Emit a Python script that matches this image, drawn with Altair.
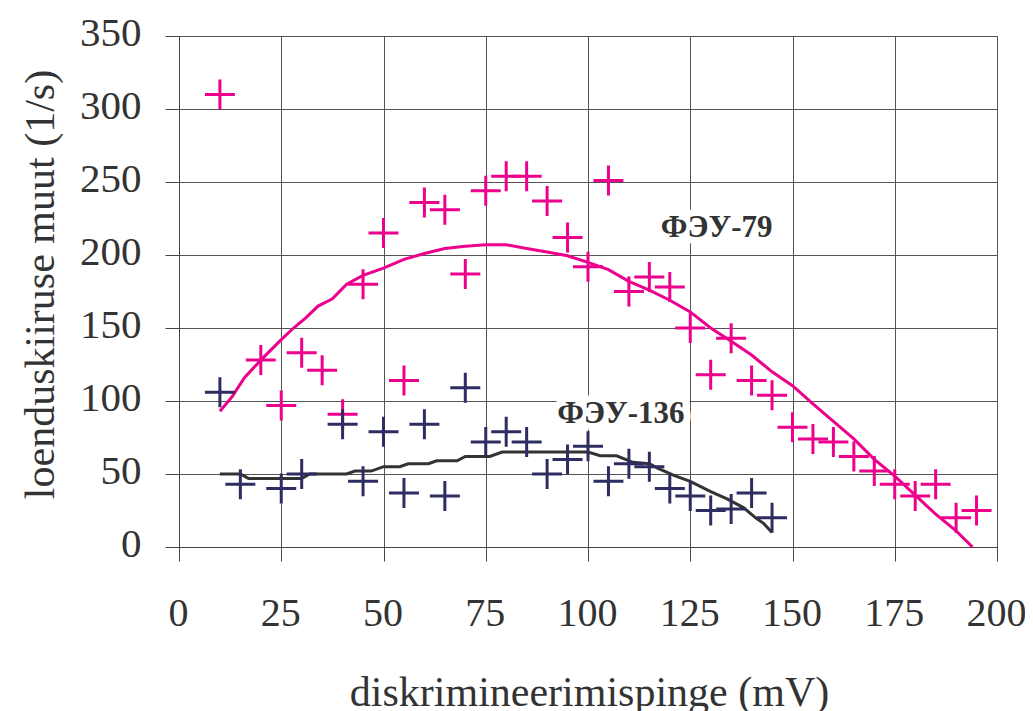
import altair as alt
import pandas as pd

# ФЭУ-79 measured points
x79 = [10, 20, 25, 30, 35, 40, 45, 50, 55, 60, 65, 70, 75, 80, 85, 90, 95, 100, 105, 110,
       115, 120, 125, 130, 135, 140, 145, 150, 155, 160, 165, 170, 175, 180, 185, 190, 195]
y79 = [310, 128, 97, 133, 121, 91, 180, 215, 114, 236, 231, 187, 244, 254, 254, 237, 212, 192, 251, 175,
       185, 178, 150, 118, 143, 114, 104, 82, 74, 72, 62, 52, 43, 35, 43, 20, 25]

# ФЭУ-136 measured points
x136 = [10, 15, 25, 30, 40, 45, 50, 55, 60, 65, 70, 75, 80, 85, 90, 95, 100, 105, 110, 115,
        120, 125, 130, 135, 140, 145]
y136 = [106, 43, 40, 50, 84, 45, 79, 37, 84, 35, 109, 72, 79, 72, 50, 60, 69, 45, 57, 55,
        40, 35, 25, 26, 37, 20]

# smoothed curves
lx79 = [10, 13, 16, 20, 25, 28, 31, 34, 37.5, 41, 45, 50, 55, 60, 65, 70, 75, 80, 85, 90, 95, 100, 105,
        110, 115, 120, 125, 130, 135, 140, 145, 150, 155, 160, 165, 170, 175, 180, 185, 190, 194]
ly79 = [93, 103, 116, 128, 142, 150, 157, 165, 170, 180, 186, 191, 197, 201, 204.5, 206, 207, 207, 204.5, 202, 199.5, 195, 190,
        182, 176, 169, 161, 150, 141, 131.5, 120, 110.5, 98, 86, 74, 60, 48.5, 35.5, 22.5, 11, 0]

lx136 = [10, 15, 17, 30, 32, 41, 43, 47, 50, 54, 56, 61, 63, 68, 70, 76, 79, 100, 103, 107,
         111, 115, 117, 121, 125, 130, 134, 138, 141, 143, 145]
ly136 = [50, 50, 47, 47, 50, 50, 52, 52, 55, 55, 57, 57, 59, 59, 62, 62, 65, 65, 62.5, 62.5,
         58, 57, 54, 49, 45, 38, 33, 27, 20, 16, 10]

labels = ["ФЭУ-79", "ФЭУ-136"]
label_x = [117.8, 92.5]
label_y = [212.4, 84.7]

x_ticks = [0, 25, 50, 75, 100, 125, 150, 175, 200]
y_ticks = [0, 50, 100, 150, 200, 250, 300, 350]

MAGENTA = "#EC008C"
NAVY = "#2E2D62"
DARK = "#333333"
FONT = "Liberation Serif"

pts79 = pd.DataFrame({"x": x79, "y": y79})
pts136 = pd.DataFrame({"x": x136, "y": y136})
line79 = pd.DataFrame({"x": lx79, "y": ly79})
line136 = pd.DataFrame({"x": lx136, "y": ly136})
lab = pd.DataFrame({"label": labels, "x": label_x, "y": label_y})

xs = alt.Scale(domain=[0, 200], nice=False, zero=False)
ys = alt.Scale(domain=[0, 350], nice=False, zero=False)

xaxis = alt.Axis(values=x_ticks, grid=True, title="diskrimineerimispinge (mV)",
                 labelPadding=64, labelBaseline="alphabetic", labelFlush=False,
                 labelFontSize=40, labelOffset=-1,
                 titleX=410, titleY=158, titleBaseline="alphabetic", titleAnchor="middle")
yaxis = alt.Axis(values=y_ticks, grid=True, title="loenduskiiruse muut (1/s)",
                 labelPadding=24, labelBaseline="alphabetic", labelOffset=9, labelFlush=False,
                 titleX=-126, titleY=248, titleBaseline="alphabetic", titleAngle=270,
                 titleAnchor="middle")

X = alt.X("x:Q", scale=xs, axis=xaxis)
Y = alt.Y("y:Q", scale=ys, axis=yaxis)

cross = "M-1,0L1,0M0,-1L0,1"

l79 = alt.Chart(line79).mark_line(color=MAGENTA, strokeWidth=3).encode(x=X, y=Y)
l136 = alt.Chart(line136).mark_line(color=DARK, strokeWidth=3).encode(x=X, y=Y)
p79 = alt.Chart(pts79).mark_point(shape=cross, size=900, filled=False, strokeWidth=3,
                                  color=MAGENTA, opacity=1).encode(x=X, y=Y)
p136 = alt.Chart(pts136).mark_point(shape=cross, size=900, filled=False, strokeWidth=3,
                                    color=NAVY, opacity=1).encode(x=X, y=Y)
txt_bg = alt.Chart(lab).mark_text(align="left", baseline="alphabetic", font=FONT, fontSize=31,
                                  fontWeight="bold", color="white", stroke="white",
                                  strokeWidth=14).encode(x=X, y=Y, text="label:N")
txt = alt.Chart(lab).mark_text(align="left", baseline="alphabetic", font=FONT, fontSize=31,
                               fontWeight="bold", color=DARK).encode(x=X, y=Y, text="label:N")

chart = alt.layer(txt_bg, l79, l136, p79, p136, txt).properties(
    width=818, height=511,
    padding={"left": 171, "top": 28, "right": 28, "bottom": 170},
    autosize=alt.AutoSizeParams(type="none"),
).configure_view(
    stroke="#444444", strokeWidth=1
).configure_axis(
    labelFont=FONT, labelFontSize=41, labelColor=DARK,
    titleFont=FONT, titleFontSize=42, titleColor=DARK, titleFontWeight="normal",
    tickSize=14, tickColor="#444444", tickWidth=1,
    domainColor="#444444", domainWidth=1,
    gridColor="#555555", gridWidth=1, gridOpacity=1,
)

chart.save("out.html", embed_options={"renderer": "svg", "actions": False})
